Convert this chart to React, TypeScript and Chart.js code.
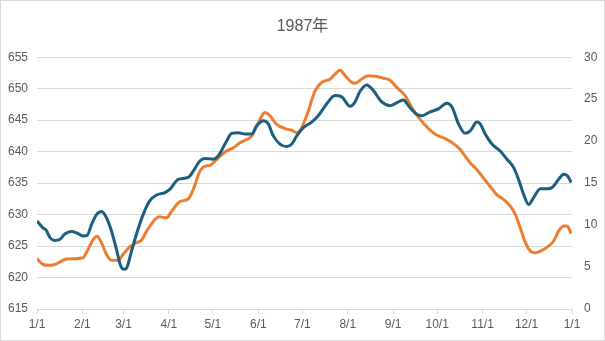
import React, { useEffect, useRef } from "react";
import { Chart, registerables } from "chart.js";

Chart.register(...registerables);

const TITLE = "1987年";
const MONTH_START_DAYS = [0, 31, 59, 90, 120, 151, 181, 212, 243, 273, 304, 334, 365];
const MONTH_LABELS = ["1/1", "2/1", "3/1", "4/1", "5/1", "6/1", "7/1", "8/1", "9/1", "10/1", "11/1", "12/1", "1/1"];

const blueDays = [0, 4, 6, 9, 12, 15.5, 19, 23.5, 27, 31.4, 34.2, 37.2, 40.6, 44, 47.4, 50.8, 54.2, 57, 59.2, 61.1, 64.5, 68, 72.4, 77, 81.6, 87.3, 90.6, 96.3, 103.1, 106.6, 111.1, 114.5, 120.2, 123.6, 129.4, 132.8, 137.3, 141.9, 146.4, 149.9, 154.4, 157.8, 161.2, 165.8, 170.4, 173.8, 177.2, 181.7, 187.4, 191.9, 197.7, 203.3, 207.9, 213.6, 217, 220.4, 225, 229.5, 235.2, 240.9, 246.6, 250, 253.4, 259.2, 262.6, 268.2, 273.9, 279.6, 283.1, 287.6, 292.1, 295.6, 300.1, 302.4, 305.8, 310.4, 316, 320.6, 325.1, 328.5, 332, 335.4, 338.8, 343.4, 348, 351.4, 355.9, 359.3, 362.1, 364.4];
const blueValues = [629.0, 627.9, 627.6, 626.3, 625.9, 626.05, 626.9, 627.3, 627.1, 626.6, 626.7, 628.4, 630.0, 630.5, 629.5, 627.4, 624.5, 621.9, 621.3, 621.5, 624.2, 627.0, 630.0, 632.2, 633.1, 633.5, 634.0, 635.6, 635.9, 636.9, 638.5, 638.9, 638.8, 639.3, 641.7, 642.9, 643.0, 642.8, 642.8, 644.1, 644.9, 644.4, 642.5, 641.2, 640.8, 641.2, 642.5, 643.8, 644.7, 645.7, 647.6, 648.9, 648.7, 647.2, 647.9, 649.6, 650.6, 649.7, 647.9, 647.3, 647.9, 648.2, 647.3, 645.9, 645.7, 646.3, 646.8, 647.7, 647.1, 644.4, 642.9, 643.3, 644.7, 644.4, 642.8, 641.2, 640.1, 638.8, 637.5, 635.6, 633.2, 631.6, 632.7, 634.1, 634.1, 634.3, 635.6, 636.4, 636.1, 635.1];

const orangeDays = [0, 4.1, 8.7, 13.3, 20.1, 25.8, 31.4, 34.8, 38.3, 41, 44, 47.4, 50.8, 55.3, 58.7, 63.3, 67.9, 71.3, 74.7, 77, 80.4, 83.8, 88.4, 91.8, 97.5, 103.1, 106.6, 111.1, 114.5, 118, 122.5, 128.2, 133.9, 138.5, 141.9, 146.4, 151, 155.5, 159, 163.5, 169.2, 173.8, 177.2, 180.6, 185.1, 189.7, 194.3, 200, 204.5, 206.8, 210.2, 214.8, 217, 221.6, 226.1, 231.8, 236.3, 240.9, 245.5, 251.2, 255.7, 261.4, 267.1, 272.8, 278.5, 284.2, 288.7, 292.1, 295.6, 300.1, 304.6, 309.2, 313.8, 318.3, 322.9, 326.3, 329.7, 333.2, 336.6, 340, 344.5, 349, 352.5, 355.9, 359.3, 361.6, 364.4];
const orangeValues = [6.0, 5.3, 5.2, 5.37, 5.97, 6.0, 6.1, 7.1, 8.27, 8.67, 7.9, 6.5, 5.8, 5.8, 6.5, 7.4, 7.9, 8.2, 9.26, 9.86, 10.66, 10.98, 10.86, 11.65, 12.8, 13.1, 14.24, 16.4, 17.0, 17.1, 17.8, 18.7, 19.2, 19.8, 20.1, 20.6, 22.2, 23.4, 23.0, 22.0, 21.5, 21.3, 21.0, 21.6, 23.6, 26.0, 27.0, 27.4, 28.2, 28.45, 27.8, 27.0, 26.9, 27.4, 27.8, 27.7, 27.5, 27.25, 26.4, 25.4, 24.0, 22.6, 21.5, 20.7, 20.3, 19.7, 19.0, 18.2, 17.4, 16.6, 15.6, 14.6, 13.6, 13.05, 12.25, 11.26, 9.67, 7.9, 6.9, 6.7, 7.0, 7.5, 8.1, 9.3, 9.9, 9.9, 9.0];

const FONT = "'Liberation Sans', Arial, 'Noto Sans CJK SC', sans-serif";
const TEXT_COLOR = "#595959";
const GRID_COLOR = "#d9d9d9";

export default function App() {
  const ref = useRef<HTMLCanvasElement | null>(null);

  useEffect(() => {
    document.body.style.margin = "0";
    const ctx = ref.current;
    if (!ctx) return;
    const chart = new Chart(ctx, {
      type: "line",
      data: {
        datasets: [
          {
            label: "blue",
            data: blueDays.map((d, i) => ({ x: d, y: blueValues[i] })),
            borderColor: "#1B5E80",
            borderWidth: 3,
            pointRadius: 0,
            cubicInterpolationMode: "monotone",
            yAxisID: "y",
          },
          {
            label: "orange",
            data: orangeDays.map((d, i) => ({ x: d, y: orangeValues[i] })),
            borderColor: "#ED7D31",
            borderWidth: 3,
            pointRadius: 0,
            cubicInterpolationMode: "monotone",
            yAxisID: "y1",
          },
        ],
      },
      options: {
        animation: false,
        responsive: false,
        maintainAspectRatio: false,
        layout: { padding: 0 },
        plugins: {
          legend: { display: false },
          tooltip: { enabled: false },
          title: {
            display: true,
            text: TITLE,
            color: TEXT_COLOR,
            font: { family: FONT, size: 16, weight: "normal" },
            padding: { top: 17, bottom: 21 },
          },
        },
        scales: {
          x: {
            type: "linear",
            min: 0,
            max: 365,
            afterBuildTicks: (scale: any) => {
              scale.ticks = MONTH_START_DAYS.map((v) => ({ value: v }));
            },
            afterFit: (scale: any) => {
              scale.height = 32;
            },
            ticks: {
              color: TEXT_COLOR,
              font: { family: FONT, size: 12 },
              maxRotation: 0,
              autoSkip: false,
              padding: 3,
              callback: (v: any) => {
                const i = MONTH_START_DAYS.indexOf(Number(v));
                return i >= 0 ? MONTH_LABELS[i] : "";
              },
            },
            grid: {
              drawOnChartArea: false,
              drawTicks: true,
              tickLength: 5,
              color: GRID_COLOR,
            },
            border: { color: GRID_COLOR },
          },
          y: {
            position: "left",
            min: 615,
            max: 655,
            afterFit: (scale: any) => {
              scale.width = 37;
            },
            ticks: {
              stepSize: 5,
              color: TEXT_COLOR,
              font: { family: FONT, size: 12 },
              padding: 9,
            },
            grid: { color: GRID_COLOR, drawTicks: false },
            border: { display: false },
          },
          y1: {
            position: "right",
            min: 0,
            max: 30,
            afterFit: (scale: any) => {
              scale.width = 33;
            },
            ticks: {
              stepSize: 5,
              color: TEXT_COLOR,
              font: { family: FONT, size: 12 },
              padding: 12,
            },
            grid: { drawOnChartArea: false, drawTicks: false },
            border: { display: false },
          },
        },
      },
    });
    return () => chart.destroy();
  }, []);

  return (
    <div style={{ position: "relative", width: 605, height: 341, background: "#fff" }}>
      <canvas ref={ref} width={605} height={341} style={{ display: "block" }} />
      <div
        style={{
          position: "absolute",
          left: 0,
          top: 0,
          width: 605,
          height: 341,
          boxSizing: "border-box",
          border: "1px solid #d9d9d9",
          pointerEvents: "none",
        }}
      />
    </div>
  );
}
